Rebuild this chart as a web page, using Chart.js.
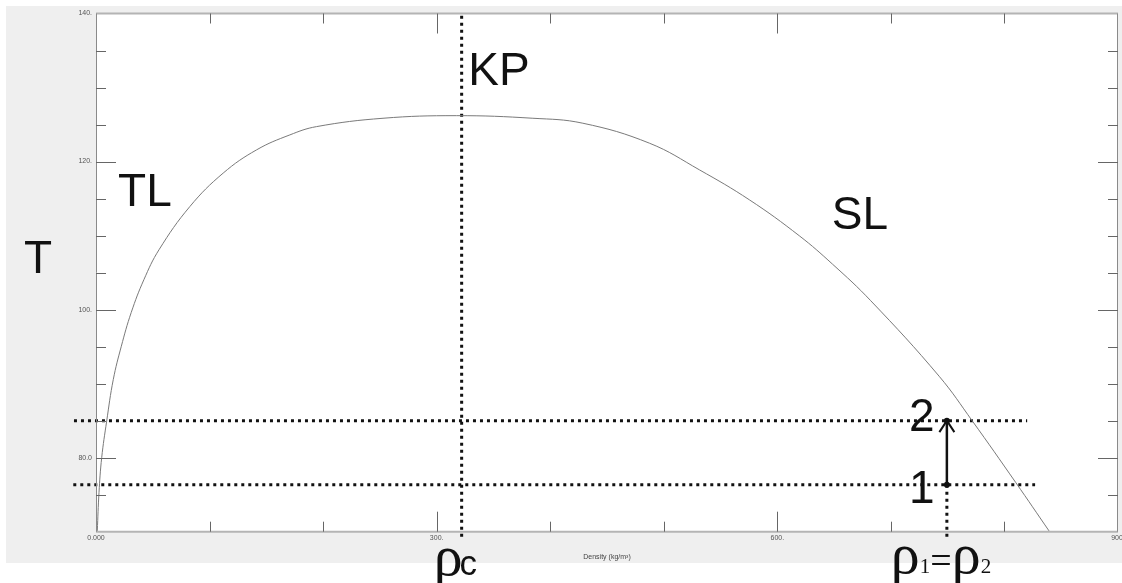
<!DOCTYPE html>
<html>
<head>
<meta charset="utf-8">
<script src="https://cdn.jsdelivr.net/npm/chart.js@4/dist/chart.umd.min.js"></script>
<style>
  html, body { margin: 0; padding: 0; background: #ffffff; }
  #wrap { width: 1122px; height: 583px; }
</style>
</head>
<body>
<div id="wrap"><canvas id="c" width="1122" height="583"></canvas></div>
<script>
// ---- data ----
const densityKgM3 = [1.14, 2.64, 5.01, 9.41, 15.22, 22.3, 31.0, 42.2, 55.5, 82.7, 112.0, 141.4, 170.7, 194.2, 252.75, 317.3, 384.7, 428.7, 487.4, 531.4, 575.4, 619.3, 648.6, 682.2, 742.5, 771.8, 810.0, 839.3];
const temperatureK = [70.10, 75.28, 80.00, 84.94, 90.56, 95.05, 99.60, 104.05, 108.09, 113.93, 118.44, 121.58, 123.60, 124.72, 125.85, 126.20, 125.85, 125.18, 122.48, 118.88, 114.83, 109.98, 106.14, 101.21, 91.0, 84.94, 76.63, 70.10];

const criticalDensity = 322;      // ρc
const stateDensity = 749.3;       // ρ1 = ρ2
const T1 = 76.35;                 // state 1
const T2 = 85.0;                  // state 2

const xTickValues = [0, 300, 600, 900];
const xTickLabels = ['0.000', '300.', '600.', '900.'];
const yTickValues = [80, 100, 120, 140];
const yTickLabels = ['80.0', '100.', '120.', '140.'];

const xAxisTitle = 'Density (kg/m³)';

// ---- helpers ----
function labelFor(values, labels, v) {
  const i = values.findIndex(t => Math.abs(t - v) < 1e-6);
  return i >= 0 ? labels[i] : '';
}

const dotted = { borderColor: '#111', borderWidth: 3, borderDash: [3, 4], pointRadius: 0, showLine: true, clip: false, borderCapStyle: 'butt' };

const datasets = [
  { label: 'curve', data: densityKgM3.map((x, i) => ({ x, y: temperatureK[i] })),
    borderColor: '#7a7a7a', borderWidth: 1, pointRadius: 0, showLine: true, tension: 0.4, clip: false },
  Object.assign({ label: 'T2 line', data: [{ x: -19.4, y: T2 }, { x: 820, y: T2 }] }, dotted),
  Object.assign({ label: 'T1 line', data: [{ x: -20, y: T1 }, { x: 827, y: T1 }] }, dotted),
  Object.assign({ label: 'rho c', data: [{ x: criticalDensity, y: 139.7 }, { x: criticalDensity, y: 69.0 }] }, dotted),
  Object.assign({ label: 'rho12', data: [{ x: stateDensity, y: T1 }, { x: stateDensity, y: 69.0 }] }, dotted),
  { label: 'arrow', data: [{ x: stateDensity, y: T1 }, { x: stateDensity, y: T2 }],
    borderColor: '#111', borderWidth: 2.5, pointRadius: 3, pointBackgroundColor: '#111', pointBorderWidth: 0,
    showLine: true, clip: false }
];

const annotations = [
  { text: 'T',  x: -63.3, y: 104.95 },
  { text: 'TL', x: 19.4,  y: 113.93 },
  { text: 'KP', x: 327.8, y: 130.34 },
  { text: 'SL', x: 648,   y: 110.88 },
  { text: '2',  x: 716,   y: 83.59 },
  { text: '1',  x: 716,   y: 73.93 }
];

const framePlugin = {
  id: 'frame',
  beforeDraw(chart) {
    const { ctx, chartArea: a } = chart;
    ctx.save();
    ctx.fillStyle = '#ffffff';
    ctx.fillRect(0, 0, chart.width, chart.height);
    ctx.fillStyle = '#efefef';
    ctx.fillRect(6, 6, chart.width - 6, 557);
    ctx.fillStyle = '#ffffff';
    ctx.fillRect(a.left, a.top, a.right - a.left, a.bottom - a.top);
    ctx.restore();
  },
  afterDatasetsDraw(chart) {
    const { ctx, chartArea: a, scales } = chart;
    const xs = scales.x, ys = scales.y;
    ctx.save();
    // frame
    ctx.strokeStyle = '#b4b4b4';
    ctx.lineWidth = 2;
    ctx.beginPath(); ctx.moveTo(a.left, a.top); ctx.lineTo(a.right, a.top); ctx.stroke();
    ctx.beginPath(); ctx.moveTo(a.left, a.bottom); ctx.lineTo(a.right, a.bottom); ctx.stroke();
    ctx.strokeStyle = '#8a8a8a';
    ctx.lineWidth = 1;
    ctx.beginPath(); ctx.moveTo(a.left + 0.5, a.top); ctx.lineTo(a.left + 0.5, a.bottom); ctx.stroke();
    ctx.beginPath(); ctx.moveTo(a.right - 0.5, a.top); ctx.lineTo(a.right - 0.5, a.bottom); ctx.stroke();
    // inward ticks
    ctx.strokeStyle = '#666';
    ctx.lineWidth = 1;
    xs.ticks.forEach(t => {
      const px = Math.round(xs.getPixelForValue(t.value)) + 0.5;
      if (t.value <= xs.min || t.value >= xs.max) return;
      const len = labelFor(xTickValues, xTickLabels, t.value) ? 20 : 10;
      ctx.beginPath(); ctx.moveTo(px, a.bottom); ctx.lineTo(px, a.bottom - len); ctx.stroke();
      ctx.beginPath(); ctx.moveTo(px, a.top); ctx.lineTo(px, a.top + len); ctx.stroke();
    });
    ys.ticks.forEach(t => {
      const py = Math.round(ys.getPixelForValue(t.value)) + 0.5;
      if (t.value <= ys.min || t.value >= ys.max) return;
      const len = labelFor(yTickValues, yTickLabels, t.value) ? 20 : 10;
      ctx.beginPath(); ctx.moveTo(a.left, py); ctx.lineTo(a.left + len, py); ctx.stroke();
      ctx.beginPath(); ctx.moveTo(a.right, py); ctx.lineTo(a.right - len, py); ctx.stroke();
    });
    // axis title
    ctx.fillStyle = '#444';
    ctx.font = '7px "Liberation Sans", Arial, sans-serif';
    ctx.textAlign = 'center';
    ctx.textBaseline = 'middle';
    ctx.fillText(xAxisTitle, (a.left + a.right) / 2, 557);
    ctx.restore();
  },
  afterDraw(chart) {
    const { ctx, scales } = chart;
    const xs = scales.x, ys = scales.y;
    ctx.save();
    // arrow head
    const tipX = xs.getPixelForValue(stateDensity), tipY = ys.getPixelForValue(T2);
    ctx.strokeStyle = '#111';
    ctx.lineWidth = 2;
    ctx.beginPath();
    ctx.moveTo(tipX - 7.5, tipY + 11.5); ctx.lineTo(tipX, tipY); ctx.lineTo(tipX + 7.5, tipY + 11.5);
    ctx.stroke();
    // text labels
    ctx.fillStyle = '#111';
    ctx.textBaseline = 'alphabetic';
    ctx.textAlign = 'left';
    ctx.font = '46px "Liberation Sans", Arial, sans-serif';
    annotations.forEach(l => ctx.fillText(l.text, xs.getPixelForValue(l.x), ys.getPixelForValue(l.y)));
    // ρc
    const serifBig = '58px "Liberation Serif", "Times New Roman", serif';
    let x0 = xs.getPixelForValue(criticalDensity) - 28;
    ctx.font = serifBig;
    ctx.fillText('ρ', x0, 575);
    let w = ctx.measureText('ρ').width;
    ctx.font = '35px "Liberation Sans", Arial, sans-serif';
    ctx.fillText('c', x0 + w - 3, 575);
    // ρ1=ρ2
    let x = xs.getPixelForValue(stateDensity) - 56;
    const parts = [
      ['ρ', serifBig], ['1', '21px "Liberation Serif", serif'], ['=', '38px "Liberation Serif", serif'],
      ['ρ', serifBig], ['2', '21px "Liberation Serif", serif']
    ];
    parts.forEach(p => {
      ctx.font = p[1];
      ctx.fillText(p[0], x, 573);
      x += ctx.measureText(p[0]).width;
    });
    ctx.restore();
  }
};

new Chart(document.getElementById('c'), {
  type: 'scatter',
  data: { datasets },
  options: {
    responsive: false,
    devicePixelRatio: 1,
    animation: false,
    layout: { padding: { left: 6, right: 2, top: 13.5, bottom: 0 } },
    plugins: { legend: { display: false }, tooltip: { enabled: false } },
    scales: {
      x: {
        type: 'linear', min: 0, max: 900,
        grid: { display: false, drawTicks: false },
        border: { display: false },
        ticks: {
          stepSize: 100, autoSkip: false, maxRotation: 0, padding: 2,
          color: '#555', font: { family: '"Liberation Sans", Arial, sans-serif', size: 7 },
          callback: v => labelFor(xTickValues, xTickLabels, v)
        },
        afterFit: s => { s.height = 51.3; s.paddingLeft = 0; s.paddingRight = 0; }
      },
      y: {
        type: 'linear', min: 70, max: 140,
        grid: { display: false, drawTicks: false },
        border: { display: false },
        ticks: {
          stepSize: 5, autoSkip: false, padding: 4,
          color: '#555', font: { family: '"Liberation Sans", Arial, sans-serif', size: 7 },
          callback: v => labelFor(yTickValues, yTickLabels, v)
        },
        afterFit: s => { s.width = 90; s.paddingTop = 0; s.paddingBottom = 0; }
      }
    }
  },
  plugins: [framePlugin]
});
</script>
</body>
</html>
